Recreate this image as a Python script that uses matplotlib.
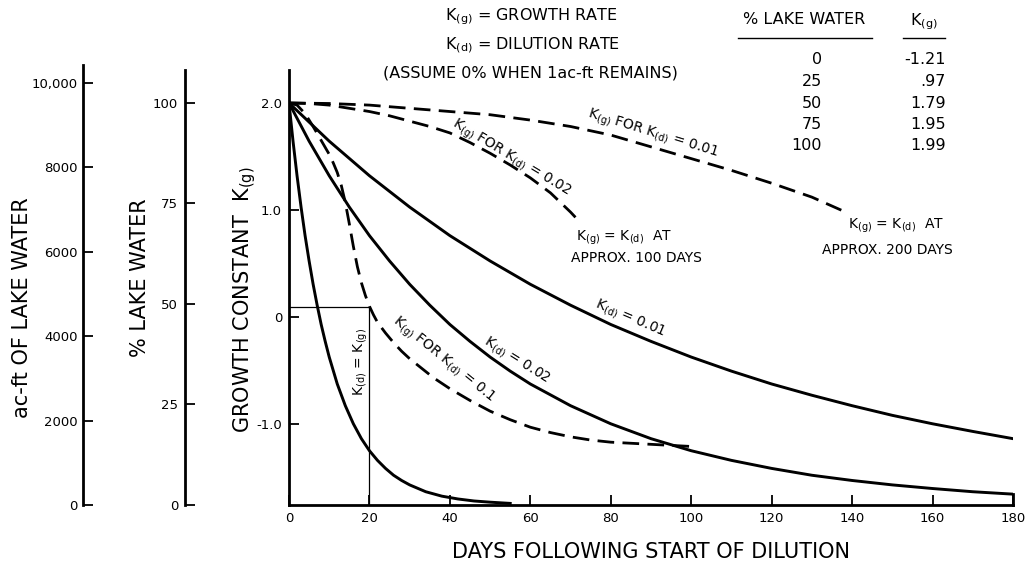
import matplotlib.pyplot as plt
from matplotlib.lines import Line2D

plt.rcParams['font.family'] = ['DejaVu Sans']
plt.rcParams['mathtext.default'] = 'regular'

W, H = 1033, 569

# % lake water remaining (solid curves)
days_k01 = [0, 10, 20, 30, 40, 50, 60, 70, 80, 90, 100, 110, 120, 130, 140, 150, 160, 170, 180]
lake_k01 = [100, 90.5, 81.9, 74.1, 67.0, 60.7, 54.9, 49.7, 44.9, 40.7, 36.8, 33.3, 30.1, 27.3,
            24.7, 22.3, 20.2, 18.3, 16.5]
days_k02 = [0, 5, 10, 15, 20, 25, 30, 35, 40, 45, 50, 55, 60, 70, 80, 90, 100, 110, 120, 130,
            140, 150, 160, 170, 180]
lake_k02 = [100, 90.5, 81.9, 74.1, 67.0, 60.7, 54.9, 49.7, 44.9, 40.7, 36.8, 33.3, 30.1, 24.7,
            20.2, 16.5, 13.5, 11.1, 9.1, 7.4, 6.1, 5.0, 4.1, 3.3, 2.7]
days_k1 = [0, 1, 2, 3, 4, 5, 6, 7, 8, 9, 10, 12, 14, 16, 18, 20, 22, 24, 26, 28, 30, 34, 38,
           42, 46, 50, 55]
lake_k1 = [100, 90.5, 81.9, 74.1, 67.0, 60.7, 54.9, 49.7, 44.9, 40.7, 36.8, 30.1, 24.7, 20.2,
           16.5, 13.5, 11.1, 9.1, 7.4, 6.1, 5.0, 3.3, 2.2, 1.5, 1.0, 0.7, 0.4]

# K(g) (dashed curves)
gdays_k01 = [0, 10, 20, 30, 40, 50, 60, 70, 80, 90, 100, 110, 120, 130, 139]
kg_k01 = [2.0, 1.995, 1.98, 1.95, 1.92, 1.89, 1.84, 1.78, 1.70, 1.59, 1.48, 1.37, 1.25, 1.12, 0.97]
gdays_k02 = [0, 5, 10, 15, 20, 25, 30, 35, 40, 45, 50, 55, 60, 65, 70, 72]
kg_k02 = [2.0, 1.995, 1.98, 1.95, 1.92, 1.88, 1.83, 1.78, 1.72, 1.63, 1.53, 1.42, 1.30, 1.16,
          0.98, 0.90]
gdays_k1 = [0, 2, 4, 6, 8, 10, 11, 12, 13, 14, 15, 16, 17, 18, 19, 20, 21, 22, 24, 26, 28, 30,
            33, 36, 40, 45, 50, 55, 60, 65, 70, 75, 80, 90, 100]
kg_k1 = [2.0, 1.98, 1.90, 1.78, 1.65, 1.52, 1.44, 1.35, 1.23, 1.07, 0.87, 0.66, 0.47, 0.32,
         0.20, 0.10, 0.02, -0.05, -0.15, -0.24, -0.32, -0.39, -0.48, -0.57, -0.67, -0.78,
         -0.88, -0.96, -1.03, -1.08, -1.12, -1.15, -1.17, -1.19, -1.21]

# K(d) = K(g) point for K(d) = 0.1
eq_day = 20
eq_kg = 0.09

pct_table = ['0', '25', '50', '75', '100']
kg_table = ['-1.21', '.97', '1.79', '1.95', '1.99']

fig = plt.figure(figsize=(W / 100, H / 100), dpi=100)


def fx(px):
    return px / W


def fy(py):
    return 1 - py / H


ymin, ymax = -1.757, 2.308
pct_top = 108.2
tfs = 9.5

ax = fig.add_axes([fx(289), fy(505), (1013 - 289) / W, (505 - 70) / H])
ax.set_xlim(0, 180)
ax.set_ylim(ymin, ymax)
ax.spines['top'].set_visible(False)
ax.spines['right'].set_bounds(ymin, -1.65)
for s in ['left', 'bottom', 'right']:
    ax.spines[s].set_linewidth(2)
ax.set_xticks(range(0, 181, 20))
ax.set_yticks([2.0, 1.0, 0, -1.0], ['2.0', '1.0', '0', '-1.0'])
ax.tick_params(direction='in', length=7, width=1.3, labelsize=tfs, pad=5)
ax.set_xlabel('DAYS FOLLOWING START OF DILUTION', fontsize=15, labelpad=12)

# reference lines where K(d) = K(g)
ax.hlines(eq_kg, 0, eq_day, color='black', lw=0.9)
ax.vlines(eq_day, ymin, eq_kg, color='black', lw=0.9)

dash = (0, (6, 3))
ax.plot(gdays_k01, kg_k01, color='black', lw=2, ls=dash)
ax.plot(gdays_k02, kg_k02, color='black', lw=2, ls=dash)
ax.plot(gdays_k1, kg_k1, color='black', lw=2, ls=dash)

axp = ax.twinx()
axp.set_ylim(0, pct_top)
axp.axis('off')
for d, v in [(days_k01, lake_k01), (days_k02, lake_k02), (days_k1, lake_k1)]:
    axp.plot(d, v, color='black', lw=2.1)

# % lake water axis
ax2 = fig.add_axes([fx(185), fy(505), 0.001, (505 - 70) / H])
ax2.set_ylim(0, pct_top)
for s in ['top', 'right', 'bottom']:
    ax2.spines[s].set_visible(False)
ax2.spines['left'].set_linewidth(2)
ax2.set_xticks([])
ax2.set_yticks([0, 25, 50, 75, 100])
ax2.tick_params(direction='in', length=7, width=1.3, labelsize=tfs, pad=5)

# ac-ft axis
acft_top = 10427
ax3 = fig.add_axes([fx(83), fy(505), 0.001, (505 - 65) / H])
ax3.set_ylim(0, acft_top)
for s in ['top', 'right', 'bottom']:
    ax3.spines[s].set_visible(False)
ax3.spines['left'].set_linewidth(2)
ax3.set_xticks([])
ax3.set_yticks([0, 2000, 4000, 6000, 8000, 10000], ['0', '2000', '4000', '6000', '8000', '10,000'])
ax3.tick_params(direction='in', length=7, width=1.3, labelsize=tfs, pad=4)

# axis titles
fig.text(fx(22), fy(308), 'ac-ft OF LAKE WATER', fontsize=15, rotation=90, ha='center', va='center')
fig.text(fx(140), fy(278), '% LAKE WATER', fontsize=15, rotation=90, ha='center', va='center')
fig.text(fx(245), fy(300), r'GROWTH CONSTANT  K$_{(g)}$', fontsize=15, rotation=90,
         ha='center', va='center')

# legend notes at top
fs = 11.5
fig.text(fx(445), fy(17), r'K$_{(g)}$ = GROWTH RATE', fontsize=fs, va='center')
fig.text(fx(445), fy(45), r'K$_{(d)}$ = DILUTION RATE', fontsize=fs, va='center')
fig.text(fx(383), fy(73), '(ASSUME 0% WHEN 1ac-ft REMAINS)', fontsize=fs, va='center')

# table
fig.text(fx(804), fy(20), '% LAKE WATER', fontsize=fs, ha='center', va='center')
fig.text(fx(924), fy(22), r'K$_{(g)}$', fontsize=fs, ha='center', va='center')
fig.add_artist(Line2D([fx(738), fx(872)], [fy(38), fy(38)], color='black', lw=1))
fig.add_artist(Line2D([fx(903), fx(945)], [fy(38), fy(38)], color='black', lw=1))
for i, (p, k) in enumerate(zip(pct_table, kg_table)):
    yy = fy(60 + 21.5 * i)
    fig.text(fx(822), yy, p, fontsize=fs, ha='right', va='center')
    fig.text(fx(946), yy, k, fontsize=fs, ha='right', va='center')

# curve labels
af = 10
notes = [
    (653, 134, -17, r'K$_{(g)}$ FOR K$_{(d)}$ = 0.01'),
    (511, 158, -31, r'K$_{(g)}$ FOR K$_{(d)}$ = 0.02'),
    (630, 318, -23, r'K$_{(d)}$ = 0.01'),
    (517, 360, -32, r'K$_{(d)}$ = 0.02'),
    (443, 360, -39, r'K$_{(g)}$ FOR K$_{(d)}$ = 0.1'),
    (361, 362, 90, r'K$_{(d)}$ = K$_{(g)}$'),
    (624, 238, 0, r'K$_{(g)}$ = K$_{(d)}$  AT'),
    (636, 258, 0, 'APPROX. 100 DAYS'),
    (896, 226, 0, r'K$_{(g)}$ = K$_{(d)}$  AT'),
    (887, 250, 0, 'APPROX. 200 DAYS'),
]
for x, y, rot, t in notes:
    fig.text(fx(x), fy(y), t, fontsize=af, rotation=rot, ha='center', va='center',
             rotation_mode='anchor')

fig.savefig('out.png', dpi=100)
